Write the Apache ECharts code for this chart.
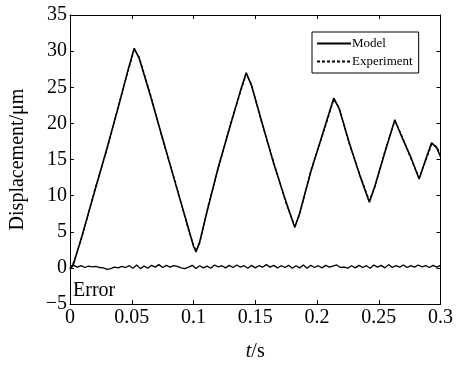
<!DOCTYPE html>
<html>
<head>
<meta charset="utf-8">
<script src="https://cdn.jsdelivr.net/npm/echarts@6/dist/echarts.min.js"></script>
<style>
  html, body { margin: 0; padding: 0; background: #fff; }
  #main { width: 456px; height: 367px; }
</style>
</head>
<body>
<div id="main"></div>
<script>
// displacement, [t (s), um]
const modelData = [
  [0, -0.2], [0.003, 0.6], [0.01, 4.6], [0.02, 10.6], [0.03, 16.6], [0.04, 22.8],
  [0.047, 27.4], [0.052, 30.4], [0.056, 29.0], [0.065, 23.9], [0.075, 17.9],
  [0.085, 11.9], [0.095, 6.0], [0.1, 3.0], [0.102, 2.2], [0.105, 3.6],
  [0.112, 8.5], [0.12, 13.9], [0.13, 19.8], [0.138, 24.5], [0.1427, 27.0],
  [0.147, 25.2], [0.155, 20.4], [0.165, 14.4], [0.175, 9.1], [0.182, 5.6],
  [0.186, 7.6], [0.195, 13.3], [0.205, 18.8], [0.2136, 23.5], [0.218, 22.0],
  [0.226, 17.4], [0.235, 12.6], [0.2424, 9.1], [0.247, 11.4], [0.255, 16.0],
  [0.263, 20.5], [0.268, 18.4], [0.276, 15.3], [0.2827, 12.3], [0.288, 15.0],
  [0.2928, 17.3], [0.297, 16.6], [0.3, 15.4]
];
const experimentData = [
  [0, 0.0], [0.003, 0.8], [0.01, 4.4], [0.02, 10.8], [0.03, 16.4], [0.04, 23.0],
  [0.047, 27.2], [0.052, 30.2], [0.056, 29.2], [0.065, 24.1], [0.075, 17.7],
  [0.085, 12.1], [0.095, 5.8], [0.1, 3.2], [0.102, 2.4], [0.105, 3.4],
  [0.112, 8.7], [0.12, 13.7], [0.13, 20.0], [0.138, 24.3], [0.1427, 26.8],
  [0.147, 25.4], [0.155, 20.2], [0.165, 14.6], [0.175, 8.9], [0.182, 5.8],
  [0.186, 7.4], [0.195, 13.5], [0.205, 18.6], [0.2136, 23.3], [0.218, 22.2],
  [0.226, 17.2], [0.235, 12.8], [0.2424, 9.3], [0.247, 11.2], [0.255, 16.2],
  [0.263, 20.3], [0.268, 18.6], [0.276, 15.1], [0.2827, 12.5], [0.288, 14.8],
  [0.2928, 17.1], [0.297, 16.8], [0.3, 15.6]
];
const errorData = [
  [0, -0.1], [0.003, 0.35], [0.006, 0.1], [0.009, 0.3], [0.012, 0.05], [0.015, 0.25],
  [0.018, 0.15], [0.021, 0.2], [0.024, 0.05], [0.027, 0.0], [0.03, -0.2], [0.033, -0.1],
  [0.036, 0.1], [0.039, 0.0], [0.042, 0.2], [0.045, 0.05], [0.048, 0.3], [0.051, -0.05],
  [0.054, 0.4], [0.057, -0.1], [0.06, 0.25], [0.063, -0.05], [0.066, 0.35], [0.069, 0.1],
  [0.072, 0.45], [0.075, 0.05], [0.078, 0.35], [0.081, 0.1], [0.084, 0.3], [0.087, 0.2],
  [0.09, 0.0], [0.093, -0.1], [0.096, 0.1], [0.099, 0.35], [0.102, -0.1], [0.105, 0.3],
  [0.108, 0.0], [0.111, 0.25], [0.114, -0.05], [0.117, 0.4], [0.12, 0.15], [0.123, 0.3],
  [0.126, 0.0], [0.129, 0.35], [0.132, 0.05], [0.135, 0.4], [0.138, 0.1], [0.141, 0.3],
  [0.144, -0.05], [0.147, 0.35], [0.15, 0.0], [0.153, 0.3], [0.156, 0.1], [0.159, 0.45],
  [0.162, 0.1], [0.165, 0.35], [0.168, 0.0], [0.171, 0.3], [0.174, 0.05], [0.177, 0.35],
  [0.18, -0.05], [0.183, 0.3], [0.186, 0.0], [0.189, 0.4], [0.192, -0.05], [0.195, 0.35],
  [0.198, 0.05], [0.201, 0.3], [0.204, 0.0], [0.207, 0.35], [0.21, 0.1], [0.213, 0.25],
  [0.216, 0.4], [0.219, 0.05], [0.222, 0.1], [0.225, -0.05], [0.228, 0.3], [0.231, 0.0],
  [0.234, 0.35], [0.237, 0.05], [0.24, 0.3], [0.243, -0.05], [0.246, 0.4], [0.249, 0.1],
  [0.252, 0.35], [0.255, 0.0], [0.258, 0.45], [0.261, 0.05], [0.264, 0.3], [0.267, 0.1],
  [0.27, 0.4], [0.273, 0.05], [0.276, 0.3], [0.279, 0.1], [0.282, 0.4], [0.285, 0.15],
  [0.288, 0.3], [0.291, 0.05], [0.294, 0.35], [0.297, 0.1], [0.3, 0.35]
];

const FONT = '"Liberation Serif", "DejaVu Serif", serif';
const chart = echarts.init(document.getElementById('main'));

const tickStyle = { show: true, inside: true, length: 4, lineStyle: { color: '#000', width: 1 } };
const lineAxis = { show: true, onZero: false, lineStyle: { color: '#000', width: 1 } };

chart.setOption({
  animation: false,
  backgroundColor: '#fff',
  grid: { left: 69, right: 12, top: 15, bottom: 58 },
  graphic: [{
    type: 'text', left: 73, top: 281,
    style: { text: 'Error', font: '20px ' + FONT, fill: '#000' }
  }],
  legend: {
    orient: 'vertical', left: 312, top: 32,
    padding: [5, 6, 5, 4], itemGap: 5,
    itemWidth: 34, itemHeight: 14,
    borderColor: '#000', borderWidth: 1,
    itemStyle: { opacity: 0 },
    textStyle: { fontFamily: FONT, fontSize: 13, color: '#000', padding: [0, 0, 0, -4] },
    data: ['Model', 'Experiment']
  },
  xAxis: [{
    type: 'value', min: 0, max: 0.3, interval: 0.05,
    name: '{i|t}/s', nameLocation: 'middle', nameGap: 38,
    nameTextStyle: {
      fontFamily: FONT, fontSize: 20, color: '#000',
      rich: { i: { fontFamily: FONT, fontSize: 20, fontStyle: 'italic', color: '#000' } }
    },
    axisLine: lineAxis, axisTick: tickStyle, splitLine: { show: false },
    axisLabel: {
      fontFamily: FONT, fontSize: 20, color: '#000', margin: 4,
      formatter: v => String(+v.toFixed(2))
    }
  }, {
    type: 'value', position: 'top', min: 0, max: 0.3, interval: 0.05,
    axisLine: lineAxis, axisTick: tickStyle, splitLine: { show: false },
    axisLabel: { show: false }
  }],
  yAxis: [{
    type: 'value', min: -5, max: 35, interval: 5,
    name: 'Displacement/μm', nameLocation: 'middle', nameGap: 42,
    nameTextStyle: { fontFamily: FONT, fontSize: 20, color: '#000' },
    axisLine: lineAxis, axisTick: tickStyle, splitLine: { show: false },
    axisLabel: {
      fontFamily: FONT, fontSize: 20, color: '#000', margin: 3,
      formatter: v => (v < 0 ? '\u2212' + (-v) : String(v))
    }
  }, {
    type: 'value', position: 'right', min: -5, max: 35, interval: 5,
    axisLine: lineAxis, axisTick: tickStyle, splitLine: { show: false },
    axisLabel: { show: false }
  }],
  series: [
    {
      name: 'Experiment', type: 'line', data: experimentData,
      symbol: 'none', lineStyle: { color: '#000', width: 1.2, type: [3, 2] },
      itemStyle: { color: '#000' }
    },
    {
      name: 'Model', type: 'line', data: modelData,
      symbol: 'none', lineStyle: { color: '#000', width: 1.6 },
      itemStyle: { color: '#000' }
    },
    {
      name: 'Error', type: 'line', data: errorData,
      symbol: 'none', lineStyle: { color: '#000', width: 1.3 },
      itemStyle: { color: '#000' }
    }
  ]
});
</script>
</body>
</html>
